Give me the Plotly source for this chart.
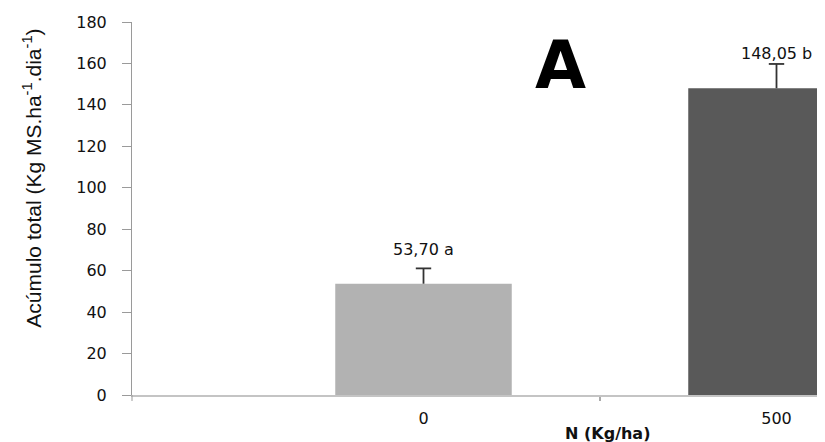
import plotly.graph_objects as go

categories = ["0", "500"]
values = [53.70, 148.05]
errors = [7.4, 11.7]
labels = ["53,70 a", "148,05 b"]
colors = ["#b2b2b2", "#595959"]
y_ticks = [0, 20, 40, 60, 80, 100, 120, 140, 160, 180]

pos = list(range(1, len(categories) + 1))
x_range = [0.1742, 2.1374]
tops = [v + e for v, e in zip(values, errors)]

fig = go.Figure()
fig.add_trace(go.Bar(
    x=pos, y=values, width=0.5,
    marker=dict(color=colors, line=dict(width=0)),
    hoverinfo="skip",
))
# upward-only error bars ("T" shape)
fig.add_trace(go.Scatter(
    x=pos, y=tops, mode="markers",
    marker=dict(symbol="line-ew-open", size=11, color="#333333", line=dict(width=1.8, color="#333333")),
    error_y=dict(type="data", symmetric=False, array=[0] * len(values), arrayminus=errors,
                 visible=True, color="#333333", thickness=1.8, width=0),
    hoverinfo="skip",
))

for p, v, t in zip(pos, values, labels):
    fig.add_annotation(x=p, y=v, text=t, showarrow=False, yanchor="bottom",
                       yshift=23, font=dict(family="DejaVu Sans", size=16, color="#111111"))

fig.add_annotation(x=1.387, y=159, xref="x", yref="y", text="<b>A</b>", showarrow=False,
                   font=dict(family="DejaVu Sans", size=66, color="#000000"),
                   xanchor="center", yanchor="middle")

fig.add_annotation(xref="paper", yref="paper", x=(1.52 - x_range[0]) / (x_range[1] - x_range[0]),
                   y=0, yshift=-38, text="<b>N (Kg/ha)</b>", showarrow=False,
                   xanchor="center", yanchor="middle",
                   font=dict(family="DejaVu Sans", size=16, color="#111111"))

fig.add_annotation(xref="paper", yref="paper", x=0, xshift=-100, y=0.58,
                   text="Acúmulo total (Kg MS.ha<sup>-1</sup>.dia<sup>-1</sup>)",
                   textangle=-90, showarrow=False, xanchor="center", yanchor="middle",
                   font=dict(family="Liberation Sans Narrow, Liberation Sans", size=21, color="#111111"))

# small tick below axis at the left edge
fig.add_shape(type="line", xref="paper", yref="paper", x0=0, x1=0, y0=0, y1=-0.016,
              line=dict(color="#999999", width=1))

fig.update_layout(
    width=817, height=434,
    margin=dict(l=124, r=0, t=14, b=47),
    paper_bgcolor="white", plot_bgcolor="white",
    showlegend=False,
    font=dict(family="DejaVu Sans", color="#111111"),
    xaxis=dict(
        range=x_range, tickvals=pos, ticktext=categories,
        showgrid=False, zeroline=False, showline=True, linecolor="#c4c4c4", linewidth=1.5,
        ticks="", ticklabelstandoff=8,
        tickfont=dict(family="DejaVu Sans", size=16, color="#111111"),
        minor=dict(tickvals=[1.5], ticks="outside", ticklen=4, tickcolor="#aaaaaa", tickwidth=2),
    ),
    yaxis=dict(
        range=[0, 180], tickvals=y_ticks,
        showgrid=False, zeroline=False, showline=True, linecolor="#9a9a9a", linewidth=1,
        ticks="outside", ticklen=9, tickcolor="#9a9a9a", tickwidth=1,
        ticklabelstandoff=12,
        tickfont=dict(family="DejaVu Sans", size=16, color="#111111"),
    ),
)

fig.write_html("out.html")
